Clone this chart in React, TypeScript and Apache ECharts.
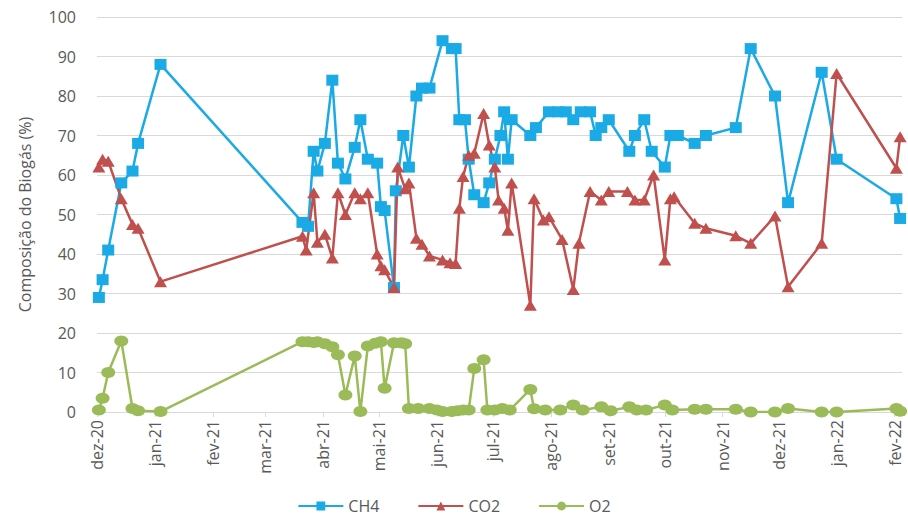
import { useEffect, useRef } from 'react';
import * as echarts from 'echarts';

// Biogas composition readings (%), one list of dates and one of values per gas
const ch4Dates = [
  '2020-12-02', '2020-12-04', '2020-12-07', '2020-12-14', '2020-12-20', '2020-12-23', '2021-01-04',
  '2021-03-21', '2021-03-24', '2021-03-27', '2021-03-29', '2021-04-02', '2021-04-06', '2021-04-09',
  '2021-04-13', '2021-04-18', '2021-04-21', '2021-04-25', '2021-04-30', '2021-05-02', '2021-05-04',
  '2021-05-09', '2021-05-10', '2021-05-14', '2021-05-17', '2021-05-21', '2021-05-24', '2021-05-28',
  '2021-06-04', '2021-06-09', '2021-06-11', '2021-06-13', '2021-06-16', '2021-06-18', '2021-06-21',
  '2021-06-26', '2021-06-29', '2021-07-02', '2021-07-05', '2021-07-07', '2021-07-09', '2021-07-11',
  '2021-07-21', '2021-07-24', '2021-07-31', '2021-08-05', '2021-08-09', '2021-08-13', '2021-08-17',
  '2021-08-22', '2021-08-25', '2021-08-28', '2021-09-01', '2021-09-12', '2021-09-15', '2021-09-20',
  '2021-09-24', '2021-10-01', '2021-10-04', '2021-10-08', '2021-10-17', '2021-10-23', '2021-11-08',
  '2021-11-16', '2021-11-29', '2021-12-06', '2021-12-24', '2022-01-01', '2022-02-02', '2022-02-04',
];
const ch4Values = [
  29, 33.5, 41, 58, 61, 68, 88,
  48, 47, 66, 61, 68, 84, 63,
  59, 67, 74, 64, 63, 52, 51,
  31.5, 56, 70, 62, 80, 82, 82,
  94, 92, 92, 74, 74, 64, 55,
  53, 58, 64, 70, 76, 64, 74,
  70, 72, 76, 76, 76, 74, 76,
  76, 70, 72, 74, 66, 70, 74,
  66, 62, 70, 70, 68, 70, 72,
  92, 80, 53, 86, 64, 54, 49,
];

const co2Dates = [
  '2020-12-02', '2020-12-04', '2020-12-07', '2020-12-14', '2020-12-20', '2020-12-23', '2021-01-04',
  '2021-03-21', '2021-03-23', '2021-03-27', '2021-03-29', '2021-04-02', '2021-04-06', '2021-04-09',
  '2021-04-13', '2021-04-18', '2021-04-21', '2021-04-25', '2021-04-30', '2021-05-02', '2021-05-04',
  '2021-05-09', '2021-05-11', '2021-05-15', '2021-05-17', '2021-05-21', '2021-05-24', '2021-05-28',
  '2021-06-04', '2021-06-08', '2021-06-11', '2021-06-13', '2021-06-15', '2021-06-18', '2021-06-21',
  '2021-06-26', '2021-06-29', '2021-07-02', '2021-07-04', '2021-07-07', '2021-07-09', '2021-07-11',
  '2021-07-21', '2021-07-23', '2021-07-28', '2021-07-31', '2021-08-07', '2021-08-13', '2021-08-16',
  '2021-08-22', '2021-08-28', '2021-09-01', '2021-09-11', '2021-09-15', '2021-09-20', '2021-09-25',
  '2021-10-01', '2021-10-04', '2021-10-06', '2021-10-17', '2021-10-23', '2021-11-08', '2021-11-16',
  '2021-11-29', '2021-12-06', '2021-12-24', '2022-01-01', '2022-02-02', '2022-02-04',
];
const co2Values = [
  62, 64, 63.5, 54, 47.5, 46.5, 33,
  44.5, 41, 55.5, 43, 45, 39, 55.5,
  50, 55.5, 54, 55.5, 40, 37, 36,
  31.5, 62, 56.5, 58, 44, 42.5, 39.5,
  38.5, 37.8, 37.6, 51.6, 59.6, 65, 65.5,
  75.6, 67.6, 62, 53.7, 51.6, 46, 58,
  27, 54, 48.6, 49.4, 43.7, 31, 42.7,
  55.8, 53.7, 55.8, 55.8, 53.7, 53.7, 60,
  38.5, 54, 54.5, 47.8, 46.5, 44.6, 42.7,
  49.6, 31.7, 42.7, 85.7, 61.7, 69.7,
];

const o2Dates = [
  '2020-12-02', '2020-12-04', '2020-12-07', '2020-12-14', '2020-12-20', '2020-12-23', '2021-01-04',
  '2021-03-21', '2021-03-24', '2021-03-27', '2021-03-29', '2021-04-02', '2021-04-06', '2021-04-09',
  '2021-04-13', '2021-04-18', '2021-04-21', '2021-04-25', '2021-04-29', '2021-05-02', '2021-05-04',
  '2021-05-09', '2021-05-13', '2021-05-15', '2021-05-17', '2021-05-22', '2021-05-28', '2021-06-01',
  '2021-06-04', '2021-06-09', '2021-06-12', '2021-06-15', '2021-06-18', '2021-06-21', '2021-06-26',
  '2021-06-28', '2021-07-02', '2021-07-06', '2021-07-10', '2021-07-21', '2021-07-23', '2021-07-29',
  '2021-08-06', '2021-08-13', '2021-08-18', '2021-08-28', '2021-09-02', '2021-09-12', '2021-09-16',
  '2021-09-21', '2021-10-01', '2021-10-05', '2021-10-17', '2021-10-23', '2021-11-08', '2021-11-16',
  '2021-11-29', '2021-12-06', '2021-12-24', '2022-01-01', '2022-02-02', '2022-02-04',
];
const o2Values = [
  0.5, 3.5, 10, 18, 0.9, 0.3, 0.1,
  17.8, 17.8, 17.6, 17.8, 17.3, 16.5, 14.5,
  4.3, 14.2, 0.1, 16.7, 17.4, 17.8, 6,
  17.5, 17.5, 17.3, 0.9, 0.9, 0.9, 0.5,
  0.1, 0.1, 0.3, 0.5, 0.5, 11, 13.2,
  0.5, 0.5, 0.9, 0.5, 5.7, 0.8, 0.5,
  0.5, 1.8, 0.5, 1.3, 0.3, 1.3, 0.5,
  0.5, 1.8, 0.5, 0.7, 0.7, 0.7, 0,
  0, 0.9, 0, 0, 0.9, 0.2,
];

const monthNames = ['jan', 'fev', 'mar', 'abr', 'mai', 'jun', 'jul', 'ago', 'set', 'out', 'nov', 'dez'];
const axisStart = '2020-12-01';
const axisEnd = '2022-02-05';
const yTicks = { min: 0, max: 100, step: 10 };

const DAY = 24 * 3600 * 1000;
const TEXT = '#595959';
const GRID = '#d9d9d9';
const FONT = 'Open Sans';

function toTime(s: string): number {
  const [y, m, d] = s.split('-').map(Number);
  return new Date(y, m - 1, d).getTime();
}

function pairs(dates: string[], values: number[]) {
  return dates.map((d, i) => [toTime(d), values[i]]);
}

function monthLabel(value: number): string {
  const d = new Date(value);
  if (d.getDate() !== 1) return '';
  return `${monthNames[d.getMonth()]}-${String(d.getFullYear()).slice(2)}`;
}

export default function App() {
  const ref = useRef<HTMLDivElement>(null);

  useEffect(() => {
    if (!ref.current) return;
    const chart = echarts.init(ref.current, undefined, { renderer: 'svg' });

    const lineSeries = (name: string, data: number[][], color: string, symbol: string, size: number[]) => ({
      name,
      type: 'line',
      data,
      symbol,
      symbolSize: size,
      showSymbol: true,
      showAllSymbol: true,
      lineStyle: { color, width: 2.5 },
      itemStyle: { color },
      emphasis: { disabled: true },
    });

    chart.setOption({
      animation: false,
      textStyle: { fontFamily: FONT },
      grid: { left: 97, right: 6, top: 17, bottom: 106 },
      legend: {
        data: ['CH4', 'CO2', 'O2'],
        left: 'center',
        top: 498,
        padding: [0, 5],
        itemWidth: 45,
        itemHeight: 11,
        itemGap: 38,
        textStyle: { color: TEXT, fontSize: 16, fontFamily: FONT },
      },
      xAxis: {
        type: 'time',
        min: toTime(axisStart),
        max: toTime(axisEnd),
        minInterval: 28 * DAY,
        maxInterval: 31 * DAY,
        axisLine: { show: true, lineStyle: { color: GRID, width: 1 } },
        axisTick: { show: true, length: 5, lineStyle: { color: GRID } },
        axisLabel: {
          rotate: 90,
          margin: 8,
          color: TEXT,
          fontSize: 16,
          fontFamily: FONT,
          showMaxLabel: false,
          formatter: monthLabel,
        },
        splitLine: { show: false },
      },
      yAxis: {
        type: 'value',
        min: yTicks.min,
        max: yTicks.max,
        interval: yTicks.step,
        name: 'Composição do Biogás (%)',
        nameLocation: 'middle',
        nameRotate: 90,
        nameGap: 64,
        nameTextStyle: { color: TEXT, fontSize: 16, fontFamily: FONT },
        axisLine: { show: false },
        axisTick: { show: false },
        axisLabel: { color: TEXT, fontSize: 16, margin: 21, fontFamily: FONT },
        splitLine: { lineStyle: { color: GRID, width: 1 } },
      },
      series: [
        lineSeries('CH4', pairs(ch4Dates, ch4Values), '#1aaae6', 'rect', [12, 11]),
        lineSeries('CO2', pairs(co2Dates, co2Values), '#c0504d', 'triangle', [13, 11]),
        lineSeries('O2', pairs(o2Dates, o2Values), '#9bbb59', 'circle', [14, 11]),
      ],
    });

    return () => chart.dispose();
  }, []);

  return (
    <div
      ref={ref}
      style={{ position: 'fixed', left: 0, top: 0, width: 908, height: 518, background: '#fff' }}
    />
  );
}
